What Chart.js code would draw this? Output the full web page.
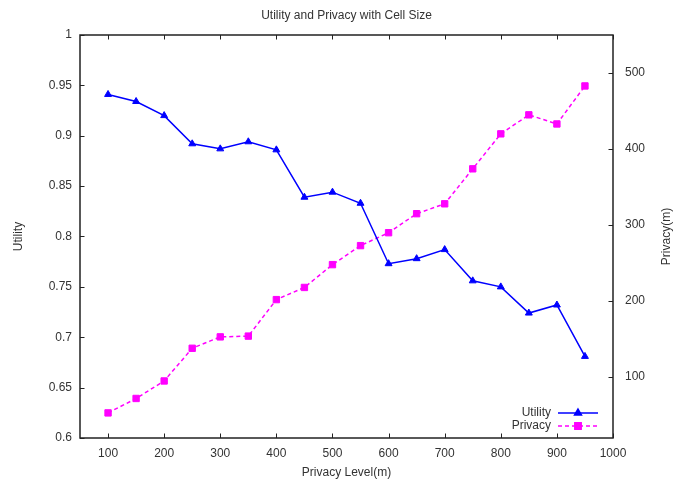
<!DOCTYPE html>
<html><head><meta charset="utf-8">
<script src="https://cdn.jsdelivr.net/npm/chart.js@4/dist/chart.umd.min.js"></script>
<style>html,body{margin:0;padding:0;background:#fff}</style>
</head><body>
<canvas id="c" width="674" height="480"></canvas>
<script>
const privacyLevels = [100,150,200,250,300,350,400,450,500,550,600,650,700,750,800,850,900,950];
const utilityValues = [0.941,0.934,0.920,0.892,0.887,0.894,0.886,0.839,0.844,0.833,0.773,0.778,0.787,0.756,0.750,0.724,0.732,0.681];
const privacyValues = [53,72,95,138,153,154,202,218,248,273,290,315,328,374,420,445,433,483];
const xTickValues = [100,200,300,400,500,600,700,800,900,1000];
const utilityTicks = [0.6,0.65,0.7,0.75,0.8,0.85,0.9,0.95,1];
const privacyTicks = [100,200,300,400,500];

const FONT = "'Liberation Sans', Arial, sans-serif";
const TXT = '#333';
const BLUE = '#0000ff';
const MAGENTA = '#ff00ff';

function fixTicks(list){ return s => { s.ticks = list.map(v => ({value: v})); }; }
function fmt(v){ return String(+(+v).toFixed(2)); }

const framePlugin = {
  id: 'frame',
  afterDatasetsDraw(chart){
    const {ctx, chartArea: a, scales} = chart;
    ctx.save();
    ctx.strokeStyle = '#222';
    ctx.lineWidth = 1.5;
    ctx.strokeRect(a.left, a.top, a.right - a.left, a.bottom - a.top);
    ctx.lineWidth = 1;
    const T = 4.5;
    ctx.beginPath();
    xTickValues.forEach(v => {
      const px = Math.round(scales.x.getPixelForValue(v)) + 0.5;
      ctx.moveTo(px, a.bottom); ctx.lineTo(px, a.bottom - T);
      ctx.moveTo(px, a.top); ctx.lineTo(px, a.top + T);
    });
    utilityTicks.forEach(v => {
      const py = Math.round(scales.y.getPixelForValue(v)) + 0.5;
      ctx.moveTo(a.left, py); ctx.lineTo(a.left + T, py);
    });
    privacyTicks.forEach(v => {
      const py = Math.round(scales.y2.getPixelForValue(v)) + 0.5;
      ctx.moveTo(a.right, py); ctx.lineTo(a.right - T, py);
    });
    ctx.stroke();

    // right axis title (reads bottom to top)
    ctx.fillStyle = TXT;
    ctx.font = "12px " + FONT;
    ctx.save();
    ctx.translate(667, (a.top + a.bottom) / 2);
    ctx.rotate(-Math.PI / 2);
    ctx.textAlign = 'center';
    ctx.textBaseline = 'middle';
    ctx.fillText('Privacy(m)', 0, 0);
    ctx.restore();

    // legend inside plot, lower right
    const ds = chart.data.datasets;
    const rows = [413, 426];
    ds.forEach((d, i) => {
      const y = rows[i];
      ctx.fillStyle = TXT;
      ctx.textAlign = 'right';
      ctx.textBaseline = 'middle';
      ctx.fillText(d.label, 551, y);
      ctx.strokeStyle = d.borderColor;
      ctx.lineWidth = d.borderWidth;
      ctx.setLineDash(d.borderDash || []);
      ctx.beginPath(); ctx.moveTo(558, y); ctx.lineTo(598, y); ctx.stroke();
      ctx.setLineDash([]);
      Chart.helpers.drawPoint(ctx, {pointStyle: d.pointStyle, radius: d.pointRadius, borderWidth: 1}, 578, y);
      ctx.fillStyle = d.backgroundColor;
      ctx.fill();
    });
    ctx.restore();
  }
};

new Chart(document.getElementById('c'), {
  type: 'line',
  data: {
    datasets: [
      {
        label: 'Utility',
        data: privacyLevels.map((x, i) => ({x: x, y: utilityValues[i]})),
        yAxisID: 'y',
        borderColor: BLUE, backgroundColor: BLUE,
        borderWidth: 1.5, pointStyle: 'triangle', pointRadius: 4,
        pointBorderWidth: 1, tension: 0, fill: false
      },
      {
        label: 'Privacy',
        data: privacyLevels.map((x, i) => ({x: x, y: privacyValues[i]})),
        yAxisID: 'y2',
        borderColor: MAGENTA, backgroundColor: MAGENTA,
        borderWidth: 1.5, borderDash: [4, 3], pointStyle: 'rect', pointRadius: 4.5,
        pointBorderWidth: 1, tension: 0, fill: false
      }
    ]
  },
  options: {
    responsive: false,
    animation: false,
    layout: {padding: 0},
    plugins: {
      legend: {display: false},
      tooltip: {enabled: false},
      title: {
        display: true, fullSize: false,
        text: 'Utility and Privacy with Cell Size',
        color: TXT,
        font: {family: FONT, size: 12, weight: 'normal'},
        padding: {top: 8, bottom: 12.6}
      }
    },
    scales: {
      x: {
        type: 'linear', min: 50, max: 1000,
        afterBuildTicks: fixTicks(xTickValues),
        afterFit: s => { s.height = 42; },
        grid: {display: false, drawTicks: false},
        border: {display: false},
        ticks: {color: TXT, font: {family: FONT, size: 12}, padding: 8, maxRotation: 0, autoSkip: false, callback: v => String(v)},
        title: {display: true, text: 'Privacy Level(m)', color: TXT, font: {family: FONT, size: 12}, padding: 0}
      },
      y: {
        type: 'linear', position: 'left', min: 0.6, max: 1,
        afterBuildTicks: fixTicks(utilityTicks),
        afterFit: s => { s.width = 80; },
        grid: {display: false, drawTicks: false},
        border: {display: false},
        ticks: {color: TXT, font: {family: FONT, size: 12}, padding: 8, autoSkip: false, callback: v => fmt(v)},
        title: {display: true, text: 'Utility', color: TXT, font: {family: FONT, size: 12}, padding: {top: 11, bottom: 0}}
      },
      y2: {
        type: 'linear', position: 'right', min: 20, max: 550,
        afterBuildTicks: fixTicks(privacyTicks),
        afterFit: s => { s.width = 61; },
        grid: {display: false, drawTicks: false},
        border: {display: false},
        ticks: {color: TXT, font: {family: FONT, size: 12}, padding: 12, autoSkip: false, callback: v => String(v)}
      }
    }
  },
  plugins: [framePlugin]
});
</script>
</body></html>
